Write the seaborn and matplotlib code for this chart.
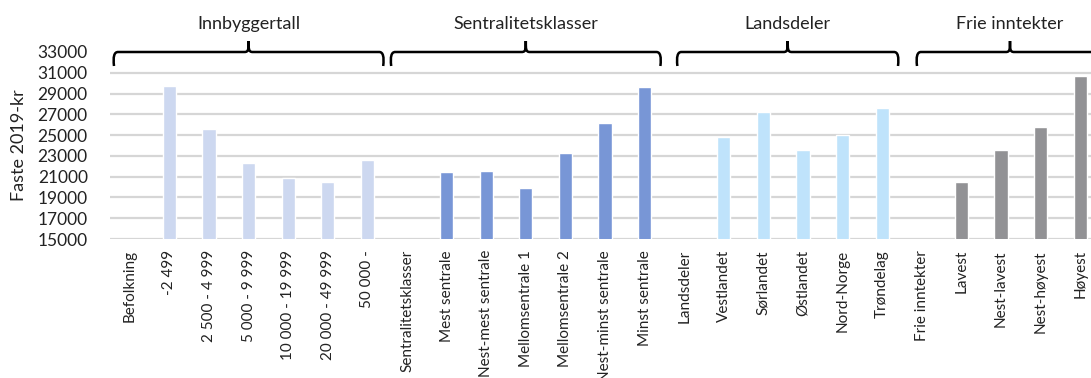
import numpy as np
import pandas as pd
import matplotlib
matplotlib.use("Agg")
import matplotlib.pyplot as plt
import seaborn as sns
from matplotlib.path import Path
from matplotlib.patches import PathPatch
from matplotlib.transforms import blended_transform_factory

# ---- data ----
categories = ["Befolkning", "-2 499", "2 500 - 4 999", "5 000 - 9 999",
              "10 000 - 19 999", "20 000 - 49 999", "50 000 -",
              "Sentralitetsklasser", "Mest sentrale", "Nest-mest sentrale",
              "Mellomsentrale 1", "Mellomsentrale 2", "Nest-minst sentrale",
              "Minst sentrale",
              "Landsdeler", "Vestlandet", "Sørlandet", "Østlandet", "Nord-Norge",
              "Trøndelag",
              "Frie inntekter", "Lavest", "Nest-lavest", "Nest-høyest", "Høyest"]
values = [np.nan, 29750, 25600, 22300, 20870, 20500, 22650,
          np.nan, 21450, 21580, 19900, 23260, 26200, 29650,
          np.nan, 24810, 27260, 23600, 25000, 27650,
          np.nan, 20500, 23600, 25750, 30700]
groups = (["Innbyggertall"] * 7 + ["Sentralitetsklasser"] * 7 +
          ["Landsdeler"] * 6 + ["Frie inntekter"] * 5)
group_names = ["Innbyggertall", "Sentralitetsklasser", "Landsdeler", "Frie inntekter"]
group_colors = ["#cdd8f0", "#7896d6", "#bfe3fb", "#929295"]
y_ticks = [15000, 17000, 19000, 21000, 23000, 25000, 27000, 29000, 31000, 33000]

df = pd.DataFrame({"kategori": categories, "verdi": values, "gruppe": groups})

sns.set_theme(style="white")
plt.rcParams["font.family"] = ["Lato", "DejaVu Sans"]

W, H = 1091, 378
fig = plt.figure(figsize=(W / 100, H / 100), dpi=100)
left_px, right_px, bottom_px, top_px = 110, 1100, 239, 52
ax = fig.add_axes([left_px / W, 1 - bottom_px / H,
                   (right_px - left_px) / W, (bottom_px - top_px) / H])

sns.barplot(data=df, x="kategori", y="verdi", hue="gruppe", order=categories,
            hue_order=group_names, palette=group_colors, dodge=False,
            width=0.33, ax=ax, legend=False, errorbar=None, saturation=1)

ax.set_xlim(-0.5, len(categories) - 0.5)
ax.set_ylim(15000, 33000)
ax.set_yticks(y_ticks)
ax.set_yticklabels([str(t) for t in y_ticks], fontsize=12.5, color="#222222")
ax.set_xticks(range(len(categories)))
ax.set_xticklabels(categories, rotation=90, fontsize=11, color="#222222",
                   va="top", ha="center")
ax.tick_params(axis="both", length=0)
ax.tick_params(axis="y", pad=16)
ax.tick_params(axis="x", pad=8)
for sp in ax.spines.values():
    sp.set_visible(False)

for t in y_ticks[:-1]:
    ax.axhline(t, color="#d6d6d6", lw=1.6, zorder=0)
ax.set_axisbelow(True)
ax.set_xlabel("")
ax.set_ylabel("Faste 2019-kr", fontsize=13, color="#222222")
ax.yaxis.set_label_coords(-(left_px - 27) / (right_px - left_px), 0.5)

# ---- group braces ----
trans = blended_transform_factory(ax.transData, fig.transFigure)
px_x = 1.0 / 39.6  # data units per pixel horizontally
py = 1.0 / H
y_line = 1 - 52 / H
starts = [0, 7, 14, 20]
ends = [6, 13, 19, 24]
for gname, s, e in zip(group_names, starts, ends):
    x0 = s - 0.5 + 4 * px_x
    x1 = e + 0.5 - 4 * px_x
    if gname == "Frie inntekter":
        x0 = s - 0.5 + 15 * px_x
        x1 = e + 0.5 + 3 * px_x
    if gname == "Landsdeler":
        x0 = s - 0.5 + 13 * px_x
    xm = (x0 + x1) / 2
    r = 4 * px_x
    d = 14 * py
    up = 11 * py
    verts = [
        (x0, y_line - d),
        (x0 - 1 * px_x, y_line - 5 * py), (x0, y_line), (x0 + r, y_line),
        (xm - r, y_line),
        (xm, y_line), (xm, y_line + 3 * py), (xm, y_line + up),
        (xm, y_line + 3 * py), (xm, y_line), (xm + r, y_line),
        (x1 - r, y_line),
        (x1, y_line), (x1 + 1 * px_x, y_line - 5 * py), (x1, y_line - d),
    ]
    codes = [Path.MOVETO,
             Path.CURVE4, Path.CURVE4, Path.CURVE4,
             Path.LINETO,
             Path.CURVE4, Path.CURVE4, Path.CURVE4,
             Path.CURVE4, Path.CURVE4, Path.CURVE4,
             Path.LINETO,
             Path.CURVE4, Path.CURVE4, Path.CURVE4]
    patch = PathPatch(Path(verts, codes), transform=trans, fill=False,
                      edgecolor="black", lw=1.8, clip_on=False)
    fig.add_artist(patch)
    fig.text(xm, 1 - 24 / H, gname, transform=trans, fontsize=13,
             color="#222222", ha="center", va="center")

fig.savefig("out.png", dpi=100)
